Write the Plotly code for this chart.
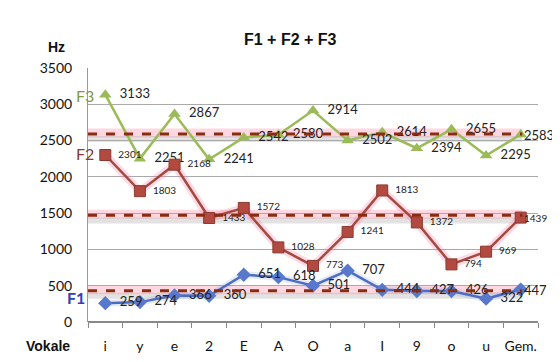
import plotly.graph_objects as go

categories = ["i", "y", "e", "2", "E", "A", "O", "a", "I", "9", "o", "u", "Gem."]
f1 = [259, 274, 366, 360, 651, 618, 501, 707, 444, 427, 426, 322, 447]
f2 = [2301, 1803, 2168, 1433, 1572, 1028, 773, 1241, 1813, 1372, 794, 969, 1439]
f3 = [3133, 2251, 2867, 2241, 2542, 2580, 2914, 2502, 2614, 2394, 2655, 2295, 2583]
mean_lines = [430, 1470, 2590]

c1 = "#4a6cc4"
c2 = "#a34a3e"
c3 = "#9bbb59"
cdash = "#8a2c12"
font = "Lato"


def labels(vals):
    # small gap right of each point; the last (Gem.) label is an annotation
    out = ["\u00a0\u00a0" + str(v) for v in vals]
    out[-1] = ""
    return out


fig = go.Figure()

# glow under lines
fig.add_trace(go.Scatter(x=categories, y=f2, mode="lines",
                         line=dict(color="rgba(255,120,160,0.28)", width=8),
                         hoverinfo="skip", showlegend=False))
fig.add_trace(go.Scatter(x=categories, y=f1, mode="lines",
                         line=dict(color="rgba(150,170,220,0.25)", width=7),
                         hoverinfo="skip", showlegend=False))

series = [
    (f3, "F3", dict(color=c3, width=2.5),
     dict(symbol="triangle-up", size=11, color=c3), 13),
    (f2, "F2", dict(color=c2, width=2.5),
     dict(symbol="square", size=11, color="#b24a42", line=dict(color="#8a3a2e", width=1)), 10),
    (f1, "F1", dict(color=c1, width=2.5),
     dict(symbol="diamond", size=11, color="#5878cc"), 13),
]
gem_ann = []
for vals, name, ln, mk, fs in series:
    fig.add_trace(go.Scatter(
        x=categories, y=vals, mode="lines+markers+text", name=name,
        line=ln, marker=mk,
        text=labels(vals), textposition="middle right",
        textfont=dict(family=font, size=fs, color="#222222"),
        cliponaxis=False, showlegend=False))
    gem_ann.append(dict(x=categories[-1], y=vals[-1], xref="x", yref="y",
                        text=str(vals[-1]), showarrow=False, xanchor="left",
                        yanchor="middle", xshift=1,
                        font=dict(family=font, size=fs, color="#222222")))

shapes = []
for v in mean_lines:
    shapes.append(dict(type="line", xref="x domain", yref="y", x0=0, x1=0.965,
                       y0=v + 15, y1=v + 15,
                       line=dict(color="rgba(255,140,170,0.35)", width=9), layer="below"))
    shapes.append(dict(type="line", xref="x domain", yref="y", x0=0, x1=0.965,
                       y0=v - 70, y1=v - 70,
                       line=dict(color="rgba(160,160,160,0.30)", width=6), layer="below"))
    shapes.append(dict(type="line", xref="x domain", yref="y", x0=0, x1=0.965,
                       y0=v, y1=v,
                       line=dict(color=cdash, width=3, dash="dash")))

tfont = "Liberation Sans"
# positions given in screenshot pixels
annotations = [
    dict(text="<b>F1 + F2 + F3</b>", x=290, y=40, showarrow=False,
         font=dict(family=tfont, size=16, color="#111111")),
    dict(text="<b>Hz</b>", x=56, y=47, showarrow=False,
         font=dict(family=tfont, size=14, color="#111111")),
    dict(text="<b>Vokale</b>", x=48, y=346, showarrow=False,
         font=dict(family=tfont, size=14, color="#111111")),
    dict(text="F3", x=85, y=95, showarrow=False,
         font=dict(family=font, size=16, color="#7e9e3c")),
    dict(text="F2", x=85, y=153, showarrow=False,
         font=dict(family=font, size=16, color="#8a3a2e")),
    dict(text="<b>F1</b>", x=76, y=297, showarrow=False,
         font=dict(family=font, size=16, color="#3040b8")),
]
# page has an 8px body margin; figure is offset by it
OFF = 8
W, H = 552, 346
L, T = 88 - OFF, 68 - OFF
R = W - (538 - OFF)
B = H - (322 - OFF)
pw, ph = W - L - R, H - T - B
for a in annotations:
    a["xref"] = "paper"
    a["yref"] = "paper"
    a["x"] = (a["x"] - OFF - L) / pw
    a["y"] = (H - B - (a["y"] - OFF)) / ph
    a["xanchor"] = "center"
    a["yanchor"] = "middle"

fig.update_layout(
    width=W, height=H,
    margin=dict(l=L, r=R, t=T, b=B, autoexpand=False),
    paper_bgcolor="white", plot_bgcolor="white",
    font=dict(family=font, size=14, color="#111111"),
    shapes=shapes, annotations=annotations + gem_ann,
    xaxis=dict(type="category", categoryorder="array", categoryarray=categories,
               range=[-0.5, 12.5], showgrid=False, showline=False,
               ticks="outside", tickson="boundaries", ticklen=5, tickangle=0,
               automargin=False,
               tickcolor="#888888", ticklabelstandoff=14,
               tickfont=dict(family=font, size=14, color="#111111"), zeroline=False),
    yaxis=dict(range=[0, 3500], dtick=500, showgrid=True, gridcolor="#aaaaaa",
               gridwidth=1, showline=True, linecolor="#999999", zeroline=True,
               zerolinecolor="#888888", ticks="", ticklabelstandoff=12,
               automargin=False,
               tickfont=dict(family=font, size=14, color="#111111")),
)

fig.write_html("out.html")
